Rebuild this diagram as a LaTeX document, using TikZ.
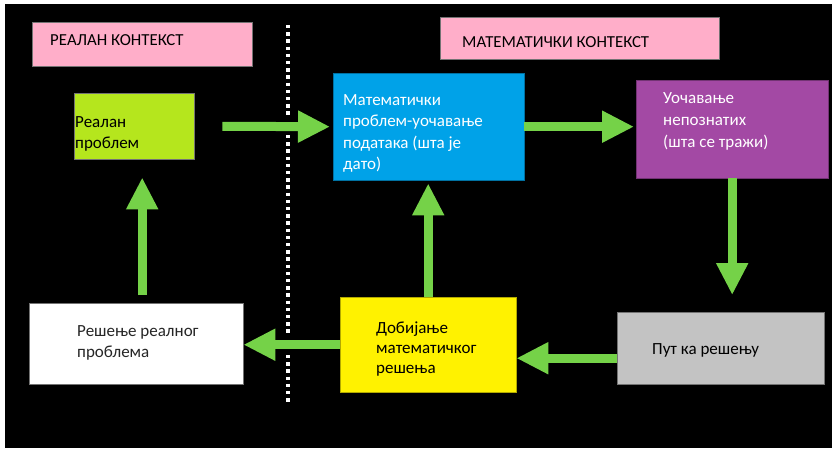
\documentclass[tikz,border=0pt]{standalone}
\usepackage{fontspec}
\setmainfont{Carlito}
\usetikzlibrary{arrows.meta, calc}
\definecolor{ctxpink}{RGB}{255,174,201}
\definecolor{limegreen}{RGB}{181,230,29}
\definecolor{mathblue}{RGB}{0,162,232}
\definecolor{unkpurple}{RGB}{163,73,164}
\definecolor{solyellow}{RGB}{255,242,0}
\definecolor{waygray}{RGB}{195,195,195}
\definecolor{arrgreen}{RGB}{117,210,72}

\begin{document}
\begin{tikzpicture}
	[x=1pt, y=-1pt,%
	box/.style    ={rectangle,	draw=black!55,	thin,	inner sep=0pt,	anchor=north west},%
	txt/.style    ={anchor=base west,	inner sep=0pt,	align=left,	font=\fontsize{17}{21.5}\selectfont},%
	ctxtxt/.style ={anchor=base west,	inner sep=0pt,	font=\fontsize{16.8}{20}\selectfont},%
	flow/.style   ={draw=arrgreen,	line width=9pt,	-{Triangle[length=32pt, width=30pt]}},%
	divider/.style={white,	line width=3.3pt,	dash pattern=on 3.3pt off 3.9pt},%
	]

	\newcommand{\divx}{288}

	% background
	\useasboundingbox (0,0) rectangle (832,448);
	\fill [white] (0,0) rectangle (832,448);
	\fill [black] (5,4) rectangle (832,448);

	% context headers
	\node (ctxreal) at (32,22)  [box, fill=ctxpink, minimum width=220, minimum height=44] {};
	\node (ctxmath) at (440,17) [box, fill=ctxpink, minimum width=279, minimum height=42] {};
	\node (ctxrealtxt) at (50,45)  [ctxtxt] {РЕАЛАН КОНТЕКСТ};
	\node (ctxmathtxt) at (462,47) [ctxtxt] {МАТЕМАТИЧКИ КОНТЕКСТ};

	% divider
	\draw [divider] (\divx,25) -- (\divx,117) (\divx,135) -- (\divx,334) (\divx,355) -- (\divx,403);

	% nodes
	\node (realp) at (74,93)   [box, fill=limegreen, minimum width=120, minimum height=66]  {};
	\node (mathp) at (333,73)  [box, fill=mathblue,  minimum width=191, minimum height=107, draw=mathblue!70!black] {};
	\node (purp)  at (636,80)  [box, fill=unkpurple, minimum width=192, minimum height=98,  draw=unkpurple!70!black] {};
	\node (way)   at (617,312) [box, fill=waygray,   minimum width=207, minimum height=72]  {};
	\node (yel)   at (340,297) [box, fill=solyellow, minimum width=176, minimum height=95,  draw=solyellow!70!black] {};
	\node (sol)   at (29,303)  [box, fill=white,     minimum width=214, minimum height=81]  {};

	% texts (anchored at the baseline of their last line)
	\node (realptxt) at (75,148.5)  [txt] {Реалан\\проблем};
	\node (mathptxt) at (343,169.5) [txt, white] {Математички\\проблем-уочавање\\података (шта је\\дато)};
	\node (purptxt)  at (663,147)   [txt, white, font=\fontsize{17}{22}\selectfont] {Уочавање\\непознатих\\(шта се тражи)};
	\node (waytxt)   at (652,354)   [txt] {Пут ка решењу};
	\node (yeltxt)   at (376,373)   [txt, font=\fontsize{17}{20}\selectfont] {Добијање\\математичког\\решења};
	\node (soltxt)   at (77,357.5)  [txt, black!85] {Решење реалног\\проблема};

	% interconnections
	\coordinate (waygo) at ($(way.west)+(0,10)$);
	\coordinate (solup) at ($(sol.north)+(6,0)$);

	\draw [flow, shorten <=28pt, shorten >=3pt] (realp.east) -- (mathp.west);
	\draw [flow, shorten >=2pt] (mathp.east) -- (mathp.east -| purp.west);
	\draw [flow, shorten >=17pt] (purp.south) -- (purp.south |- way.north);
	\draw [flow] (waygo) -- (waygo -| yel.east);
	\draw [flow] (yel.west) -- (yel.west -| sol.east);
	\draw [flow, shorten >=3pt] (yel.north) -- (yel.north |- mathp.south);
	\draw [flow, shorten <=8pt, shorten >=18pt] (solup) -- (solup |- realp.south);

\end{tikzpicture}
\end{document}
